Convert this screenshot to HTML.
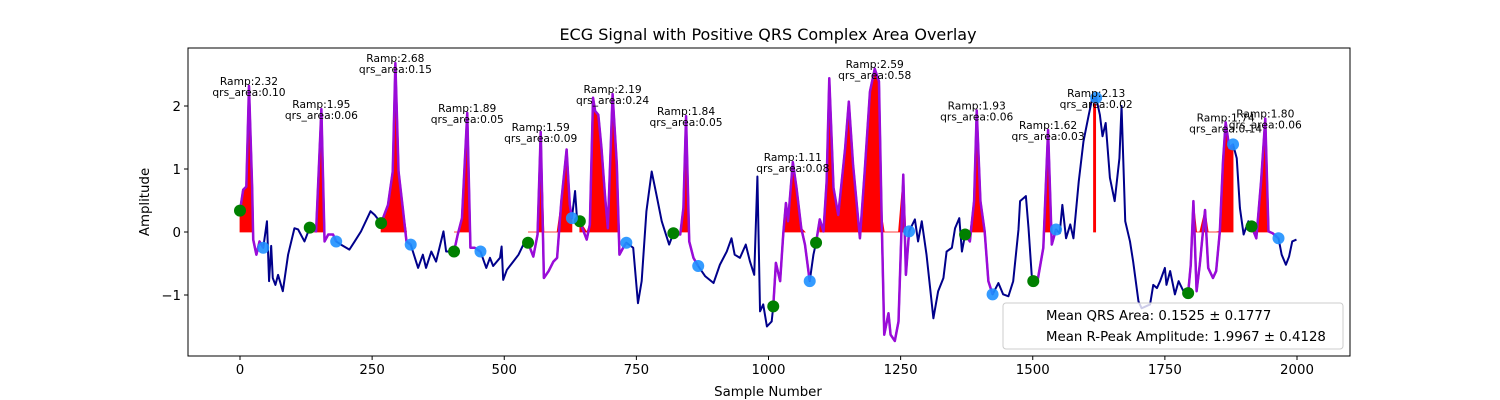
<!DOCTYPE html>
<html><head><meta charset="utf-8">
<style>
html,body{margin:0;padding:0;background:#fff;}
svg{display:block;font-family:"DejaVu Sans","Liberation Sans",sans-serif;}
</style></head>
<body>
<svg id="chart" width="1500" height="400" viewBox="0 0 1500 400" xmlns="http://www.w3.org/2000/svg">
<rect x="0" y="0" width="1500" height="400" fill="#fff"/>
<text x="768" y="40" text-anchor="middle" font-size="16" fill="#000">ECG Signal with Positive QRS Complex Area Overlay</text>
<g id="plot"></g>
<text x="768" y="396" text-anchor="middle" font-size="13.33" fill="#000">Sample Number</text>
<text x="149" y="202" text-anchor="middle" font-size="13.33" fill="#000" transform="rotate(-90 149 202)">Amplitude</text>
</svg>
<script>
const sampleIdx = [0,6,12,17,23,25,31,37,44,51,55,59,62,67,72,81,91,103,110,122,132,144,154,160,167,176,182,191,207,217,229,247,255,267,280,289,294,300,308,315,323,337,346,352,362,371,385,390,405,412,420,430,436,444,455,466,473,479,492,495,498,505,517,527,539,545,555,563,569,575,584,593,600,608,618,624,628,634,638,643,656,662,668,672,678,684,691,696,705,713,718,725,731,744,753,760,769,779,788,798,812,820,833,839,844,850,858,867,880,896,908,921,930,936,946,957,965,973,979,984,990,997,1006,1009,1014,1022,1028,1033,1037,1046,1053,1062,1069,1078,1085,1090,1097,1104,1110,1115,1123,1132,1145,1152,1160,1173,1182,1192,1201,1209,1214,1219,1227,1231,1239,1246,1255,1260,1266,1277,1283,1290,1299,1312,1321,1331,1337,1347,1353,1361,1366,1372,1381,1389,1394,1401,1409,1416,1424,1435,1444,1454,1463,1473,1476,1487,1492,1498,1501,1510,1520,1529,1536,1544,1551,1556,1563,1571,1577,1587,1596,1606,1612,1620,1627,1632,1638,1646,1655,1664,1668,1675,1684,1690,1700,1706,1722,1728,1735,1741,1750,1753,1760,1769,1776,1788,1794,1799,1804,1810,1816,1826,1832,1841,1847,1854,1860,1865,1872,1879,1886,1892,1899,1908,1914,1923,1932,1940,1946,1954,1965,1971,1979,1985,1991,1999];
const amplitude = [0.34,0.67,0.72,2.32,0.70,-0.12,-0.36,-0.15,-0.25,0.17,-0.78,-0.22,-0.73,-0.84,-0.68,-0.94,-0.36,0.06,0.04,-0.15,0.07,0.01,1.95,-0.15,-0.04,-0.04,-0.15,-0.2,-0.28,-0.15,0.01,0.33,0.27,0.14,0.43,0.96,2.68,0.96,0.38,-0.15,-0.2,-0.57,-0.36,-0.57,-0.31,-0.47,0.01,-0.31,-0.31,-0.04,0.22,1.89,-0.25,-0.25,-0.31,-0.57,-0.41,-0.54,-0.41,-0.23,-0.76,-0.6,-0.47,-0.36,-0.15,-0.17,-0.39,-0.04,1.59,-0.73,-0.62,-0.47,-0.41,0.49,1.31,0.43,0.22,0.65,0.17,0.17,-0.12,0.12,2.13,1.92,1.86,1.33,0.54,0.06,2.19,1.07,-0.36,-0.25,-0.17,-0.25,-1.13,-0.78,0.33,0.96,0.59,0.17,-0.2,-0.02,-0.04,0.38,1.84,-0.15,-0.41,-0.54,-0.7,-0.81,-0.52,-0.31,-0.1,-0.36,-0.41,-0.2,-0.47,-0.68,0.88,-1.26,-1.15,-1.5,-1.42,-1.18,-0.49,-0.78,-0.02,0.46,0.17,1.11,0.7,0.06,-0.2,-0.78,-0.36,-0.17,0.2,0.01,0.8,2.44,0.7,0.27,1.33,2.07,1.07,-0.1,0.96,2.23,2.59,2.39,0.27,-1.63,-1.29,-1.63,-1.73,-1.42,0.91,-0.68,0.01,0.2,-0.15,0.17,-0.36,-1.37,-0.94,-0.73,-0.31,-0.25,0.06,0.22,-0.31,-0.04,-0.15,0.49,1.93,0.49,0.01,-0.78,-0.99,-0.81,-0.99,-1.02,-0.78,0.04,0.49,0.57,0.06,-0.68,-0.78,-0.73,-0.25,1.62,-0.2,0.04,-0.02,0.43,-0.1,0.12,-0.1,0.8,1.44,1.86,2.1,2.13,1.86,1.52,1.73,0.86,0.49,1.17,2.0,0.17,-0.15,-0.47,-1.1,-1.21,-1.15,-0.84,-0.89,-0.78,-0.57,-0.84,-0.62,-0.99,-0.78,-0.99,-0.97,-0.52,0.49,-0.94,-0.52,0.35,-0.57,-0.73,-0.62,0.01,1.12,1.74,1.33,1.39,1.17,0.38,-0.04,0.17,0.09,-0.1,0.8,1.80,0.01,-0.02,-0.1,-0.36,-0.52,-0.39,-0.15,-0.12];
const qrsOnset = [0,132,267,405,545,643,820,1009,1090,1372,1501,1794,1914];
const qrsOffset = [44,182,323,455,628,731,867,1078,1266,1424,1544,1879,1965];
const areaStart = [0,132,267,405,545,643,820,1028,1097,1372,1520,1615,1804,1914];
const areaEnd = [23,160,315,436,628,718,850,1069,1260,1409,1536,1619,1879,1946];
const onsetIdx = [0,132,267,405,545,643,820,1009,1090,1372,1501,1794,1914];
const offsetIdx = [44,182,323,455,628,731,867,1078,1266,1424,1544,1620,1879,1965];
const peakIdx = [17,154,294,430,569,705,844,1046,1201,1394,1529,1620,1865,1940];
const rampVals = ["2.32","1.95","2.68","1.89","1.59","2.19","1.84","1.11","2.59","1.93","1.62","2.13","1.74","1.80"];
const areaVals = ["0.10","0.06","0.15","0.05","0.09","0.24","0.05","0.08","0.58","0.06","0.03","0.02","0.14","0.06"];
const xTicks = [0,250,500,750,1000,1250,1500,1750,2000];
const yTicks = [-1,0,1,2];

const L=188,T=48,R=1350,B=356;
function xs(v){return 240+v*(1297-240)/2000;}
function ys(v){return 232-v*63;}
function interp(x){
  for(let i=0;i<sampleIdx.length-1;i++){
    if(x>=sampleIdx[i]&&x<=sampleIdx[i+1]){
      const t=(x-sampleIdx[i])/((sampleIdx[i+1]-sampleIdx[i])||1);
      return amplitude[i]+t*(amplitude[i+1]-amplitude[i]);
    }
  }
  return amplitude[amplitude.length-1];
}
function seg(a,b){
  const pts=[[a,interp(a)]];
  for(let i=0;i<sampleIdx.length;i++){if(sampleIdx[i]>a&&sampleIdx[i]<b)pts.push([sampleIdx[i],amplitude[i]]);}
  pts.push([b,interp(b)]);
  return pts;
}
const NS="http://www.w3.org/2000/svg";
const plot=document.getElementById('plot');
function mk(tag,attrs,parent){const e=document.createElementNS(NS,tag);for(const k in attrs)e.setAttribute(k,attrs[k]);(parent||plot).appendChild(e);return e;}

const defs=mk('defs',{});
const cp=mk('clipPath',{id:'clip'},defs);
mk('rect',{x:L,y:T,width:R-L,height:B-T},cp);
const g=mk('g',{'clip-path':'url(#clip)'});

for(let w=0;w<areaStart.length;w++){
  const pts=seg(areaStart[w],areaEnd[w]);
  let d='M'+xs(areaStart[w])+','+ys(0);
  pts.forEach(p=>{d+=' L'+xs(p[0]).toFixed(2)+','+ys(Math.max(p[1],0)).toFixed(2);});
  d+=' L'+xs(areaEnd[w])+','+ys(0)+' Z';
  const f=mk('path',{d:d,fill:'#ff0000',stroke:'#ff0000','stroke-width':'0.8'},g);
  
  
}
let d='';
sampleIdx.forEach((s,i)=>{d+=(i?' L':'M')+xs(s).toFixed(2)+','+ys(amplitude[i]).toFixed(2);});
const line=mk('path',{d:d,fill:'none',stroke:'#00008b','stroke-width':'2','stroke-linejoin':'round'},g);


for(let w=0;w<qrsOnset.length;w++){
  const pts=seg(qrsOnset[w],qrsOffset[w]);
  let dd='';
  pts.forEach((p,i)=>{dd+=(i?' L':'M')+xs(p[0]).toFixed(2)+','+ys(p[1]).toFixed(2);});
  const q=mk('path',{d:dd,fill:'none',stroke:'#9a0bd8','stroke-width':'2.5','stroke-linejoin':'round'},g);
  
  
}
onsetIdx.forEach(s=>{
  const c=mk('circle',{cx:xs(s),cy:ys(interp(s)),r:6,fill:'#008000'},g);
  
  
});
offsetIdx.forEach(s=>{
  const c=mk('circle',{cx:xs(s),cy:ys(interp(s)),r:6,fill:'#1e90ff','fill-opacity':'0.9'},g);
  
  
});
peakIdx.forEach((s,i)=>{
  const py=ys(interp(s));
  const t1=mk('text',{x:xs(s),y:py-1,'text-anchor':'middle','font-size':'10.67',fill:'#000'});
  t1.textContent='Ramp:'+rampVals[i];
  
  
  const t2=mk('text',{x:xs(s),y:py+10,'text-anchor':'middle','font-size':'10.67',fill:'#000'});
  t2.textContent='qrs_area:'+areaVals[i];
  
  
});
const fr=mk('rect',{x:L,y:T,width:R-L,height:B-T,fill:'none',stroke:'#000','stroke-width':'1'});


xTicks.forEach(v=>{
  const x=xs(v);
  const tk=mk('line',{x1:x,x2:x,y1:B,y2:B+4,stroke:'#000'});
  
  
  const lb=mk('text',{x:x,y:B+18,'text-anchor':'middle','font-size':'13.33',fill:'#000'});
  lb.textContent=String(v);
  
  
});
yTicks.forEach(v=>{
  const y=ys(v);
  const tk=mk('line',{x1:L-4,x2:L,y1:y,y2:y,stroke:'#000'});
  
  
  const lb=mk('text',{x:L-7,y:y+5,'text-anchor':'end','font-size':'13.33',fill:'#000'});
  lb.textContent=v<0?'\u2212'+Math.abs(v):String(v);
  
  
});
const lg=mk('g',{});


mk('rect',{x:1003,y:303,width:340,height:46,rx:3,fill:'#fff','fill-opacity':'0.8',stroke:'#ccc'},lg);
const le1=mk('text',{x:1046,y:320,'font-size':'13.33',fill:'#000'},lg);
le1.textContent='Mean QRS Area: 0.1525 \u00b1 0.1777';


const le2=mk('text',{x:1046,y:341,'font-size':'13.33',fill:'#000'},lg);
le2.textContent='Mean R-Peak Amplitude: 1.9967 \u00b1 0.4128';


</script>
</body></html>
